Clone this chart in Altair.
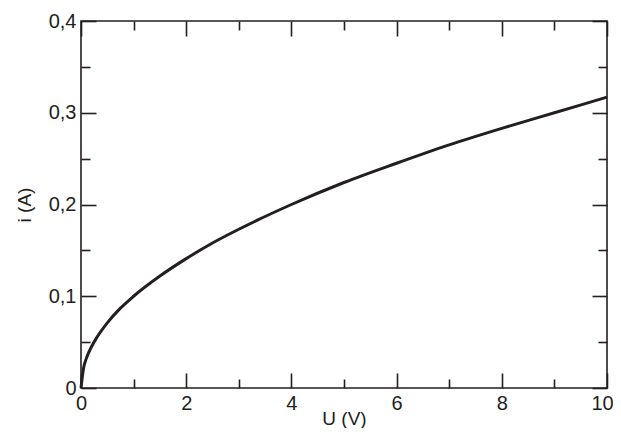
import altair as alt
import pandas as pd

# Values
U_values = [0, 0.05, 0.1, 0.2, 0.3, 0.5, 0.75, 1, 1.5, 2, 2.5, 3, 4, 5, 6, 7, 8, 9, 10]
i_values = [0, 0.022, 0.032, 0.045, 0.055, 0.071, 0.087, 0.1, 0.122, 0.141, 0.158,
            0.173, 0.2, 0.224, 0.245, 0.265, 0.283, 0.3, 0.317]

x_major = [0, 2, 4, 6, 8, 10]
x_minor = [1, 3, 5, 7, 9]
y_major = [0, 0.1, 0.2, 0.3, 0.4]
y_minor = [0.05, 0.15, 0.25, 0.35]

df = pd.DataFrame({"U": U_values, "i": i_values})

FONT = "Liberation Sans"
INK = "#231f20"
label_expr = "datum.value == 0 ? '0' : replace(format(datum.value, '.1f'), '.', ',')"

xs = alt.Scale(domain=[0, 10], nice=False, zero=False)
ys = alt.Scale(domain=[0, 0.4], nice=False, zero=False)


def ax(orient, values, size, labels=False, title=None, fmt=None, **extra):
    kw = dict(
        orient=orient, values=values, tickSize=size, offset=-size,
        domain=False, grid=False, ticks=True, tickColor=INK, tickWidth=1.6,
        labels=labels, title=title if title else "",
    )
    if labels:
        kw.update(labelFont=FONT, labelFontSize=20, labelColor=INK,
                  labelPadding=5, labelFlush=False, labelOverlap=False)
        if fmt:
            kw["labelExpr"] = fmt
    if title:
        kw.update(titleFont=FONT, titleFontSize=19, titleColor=INK,
                  titleFontWeight="normal")
    kw.update(extra)
    return alt.Axis(**kw)


base = alt.Chart(df)

line = base.mark_line(color=INK, strokeWidth=3, interpolate="monotone").encode(
    x=alt.X("U:Q", scale=xs, axis=ax(
        "bottom", x_major, 15, True, "U (V)",
        titleBaseline="alphabetic", titleY=51,
        labelOffset={"condition": {"test": "datum.value == 10", "value": -5}, "value": 0},
    )),
    y=alt.Y("i:Q", scale=ys, axis=ax("left", y_major, 15, True, "i (A)", label_expr,
                                     titlePadding=14)),
)
minor1 = base.mark_line(opacity=0).encode(
    x=alt.X("U:Q", scale=xs, axis=ax("bottom", x_minor, 9)),
    y=alt.Y("i:Q", scale=ys, axis=ax("left", y_minor, 9)),
)
major2 = base.mark_line(opacity=0).encode(
    x=alt.X("U:Q", scale=xs, axis=ax("top", x_major, 15)),
    y=alt.Y("i:Q", scale=ys, axis=ax("right", y_major, 15)),
)
minor2 = base.mark_line(opacity=0).encode(
    x=alt.X("U:Q", scale=xs, axis=ax("top", x_minor, 9)),
    y=alt.Y("i:Q", scale=ys, axis=ax("right", y_minor, 9)),
)

chart = (
    alt.layer(line, minor1, major2, minor2)
    .resolve_axis(x="independent", y="independent")
    .properties(
        width=526, height=367, autosize="none",
        padding={"left": 73, "top": 13, "right": 6, "bottom": 40},
        background="white",
    )
    .configure_view(stroke=INK, strokeWidth=1.6)
)

chart.save("out.html", embed_options={"renderer": "svg", "actions": False})
